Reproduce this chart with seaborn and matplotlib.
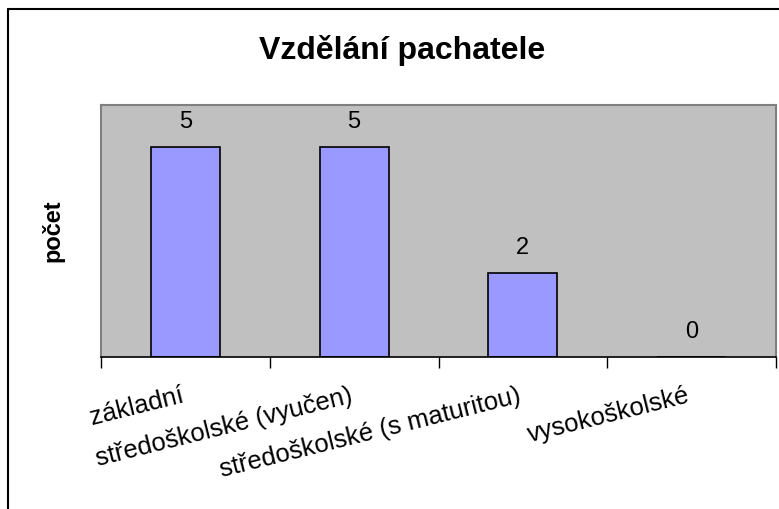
import matplotlib
matplotlib.use('Agg')
import matplotlib.pyplot as plt
from matplotlib.lines import Line2D
import matplotlib.transforms as mtransforms
import seaborn as sns
import pandas as pd

# data
kategorie = ['základní', 'středoškolské (vyučen)', 'středoškolské (s maturitou)', 'vysokoškolské']
pocet = [5, 5, 2, 0]

df = pd.DataFrame({'Vzdělání': kategorie, 'počet': pocet})

sns.set_style('white')
plt.rcParams['font.family'] = ['Liberation Sans', 'DejaVu Sans']
plt.rcParams['text.color'] = 'black'
plt.rcParams['axes.labelcolor'] = 'black'
plt.rcParams['xtick.color'] = 'black'

fig = plt.figure(figsize=(7.79, 5.09), dpi=100)
ax = fig.add_axes([101 / 779, 1 - 357 / 509, 675 / 779, 252 / 509])

sns.barplot(data=df, x='Vzdělání', y='počet', color='#9999FF', width=0.41,
            edgecolor='black', linewidth=1.2, saturation=1, ax=ax)
ax.set_facecolor('#C0C0C0')
ax.set_ylim(0, 6)
ax.set_xlim(-0.5, 3.5)
ax.set_yticks([])

# popisky hodnot nad sloupci
ax.bar_label(ax.containers[0], labels=[str(v) for v in pocet], padding=10, fontsize=17, color='black')

# osa x - dlouhé popisky natočené
ax.set_xticks(range(len(kategorie)))
ax.set_xticklabels(kategorie, rotation=14, ha='right', va='top', rotation_mode='anchor', fontsize=18.5)
ax.tick_params(axis='x', which='major', length=0, pad=19, labelcolor='black')
posun = mtransforms.ScaledTranslation(-5 / 100, 0, fig.dpi_scale_trans)
for lbl in ax.get_xticklabels():
    lbl.set_transform(lbl.get_transform() + posun)
ax.set_xticks([-0.5, 0.5, 1.5, 2.5, 3.5], minor=True)
ax.tick_params(axis='x', which='minor', length=8, width=1, color='black', direction='out', bottom=True)
ax.set_xlabel('')
ax.set_ylabel('počet', fontsize=17, fontweight='bold', labelpad=26, color='black')

for s in ['left', 'top', 'right']:
    ax.spines[s].set_color('#808080')
    ax.spines[s].set_linewidth(1.5)
ax.spines['bottom'].set_color('black')
ax.spines['bottom'].set_linewidth(1.2)

fig.text(402 / 779, 1 - 50 / 509, 'Vzdělání pachatele', ha='center', va='center',
         fontsize=23, fontweight='bold', color='black')

# rámeček grafu (jen levá a horní hrana je vidět)
fig.add_artist(Line2D([8 / 779, 8 / 779], [0, 1 - 9 / 509], color='black', lw=1.5, transform=fig.transFigure))
fig.add_artist(Line2D([8 / 779, 1], [1 - 9 / 509, 1 - 9 / 509], color='black', lw=1.5, transform=fig.transFigure))

fig.savefig('out.png', dpi=100)
